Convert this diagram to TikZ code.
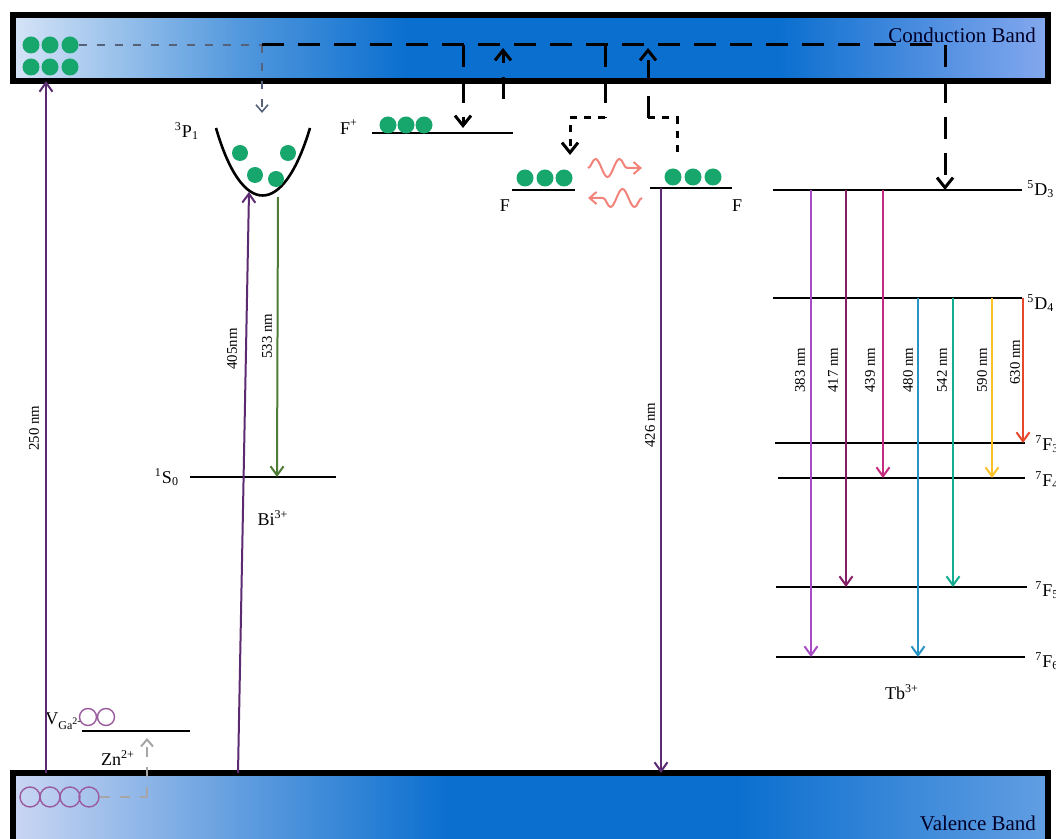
\documentclass[tikz,border=0pt]{standalone}
\usepackage{fontspec}
\setmainfont{Liberation Serif}
\usetikzlibrary{arrows.meta,positioning,calc,decorations.pathmorphing}
\definecolor{CBPale}{HTML}{D6E4F7}
\definecolor{BandBlue}{HTML}{0B6FCF}
\definecolor{CBRight}{HTML}{84A8EE}
\definecolor{VBPale}{HTML}{CAD6F3}
\definecolor{VBRight}{HTML}{629EE2}
\definecolor{Dot}{HTML}{17A66B}
\definecolor{Hole}{HTML}{9A5A9E}
\definecolor{Pump}{HTML}{5C2A70}
\definecolor{Green533}{HTML}{4E7B36}
\definecolor{Wave}{HTML}{F2837B}
\definecolor{Trap}{HTML}{56627A}
\definecolor{ZnGrey}{HTML}{A6A6A6}
\definecolor{c383}{HTML}{A74CC4}
\definecolor{c417}{HTML}{841F66}
\definecolor{c439}{HTML}{C42A7E}
\definecolor{c480}{HTML}{2A93C6}
\definecolor{c542}{HTML}{15AD8F}
\definecolor{c590}{HTML}{F8C22A}
\definecolor{c630}{HTML}{E8482A}
\pgfdeclarehorizontalshading{cbshade}{100bp}{color(0bp)=(CBPale); color(25bp)=(CBPale);
  color(36bp)=(BandBlue!65!CBPale); color(44bp)=(BandBlue); color(62bp)=(BandBlue);
  color(75bp)=(CBRight); color(100bp)=(CBRight)}
\pgfdeclarehorizontalshading{vbshade}{100bp}{color(0bp)=(VBPale); color(25bp)=(VBPale);
  color(37bp)=(BandBlue!60!VBPale); color(46bp)=(BandBlue); color(60bp)=(BandBlue);
  color(75bp)=(VBRight); color(100bp)=(VBRight)}
\tikzset{
  cband/.style={draw=black,line width=2.6pt,shading=cbshade},
  vband/.style={draw=black,line width=2.6pt,shading=vbshade},
  bandtxt/.style={font=\fontsize{10.5}{12}\selectfont,text=black!85!blue},
  level/.style={draw=black,line width=1.35pt},
  well/.style={draw=black,line width=1.3pt},
  electron/.style={circle,fill=Dot,inner sep=0pt,minimum size=8.5pt},
  smallelectron/.style={electron,minimum size=8pt},
  hole/.style={circle,draw=Hole,line width=.7pt,inner sep=0pt,minimum size=8.5pt},
  bighole/.style={hole,minimum size=10pt},
  term/.style={font=\fontsize{9}{11}\selectfont,inner sep=1pt},
  wl/.style={font=\fontsize{7.4}{9}\selectfont,rotate=90,inner sep=1pt},
  emit/.style={-{Straight Barb[length=4.5pt,width=6.5pt]},line width=1pt},
  pump/.style={emit,draw=Pump},
  hopdash/.style={draw=black,line width=1.5pt,dash pattern=on 11pt off 7pt},
  hopdot/.style={draw=black,line width=1.5pt,dash pattern=on 3.5pt off 3.5pt},
  hoptip/.style={-{Straight Barb[length=5pt,width=8pt]}},
  trapdash/.style={draw=Trap,line width=.8pt,dash pattern=on 4pt off 5pt},
  zndash/.style={draw=ZnGrey,line width=1pt,dash pattern=on 5pt off 5pt},
  wave/.style={draw=Wave,line width=1pt,-{Straight Barb[length=3.5pt,width=6pt]},
    decorate,decoration={snake,amplitude=4.5pt,segment length=12pt,post length=5pt}}
}
\begin{document}
\begin{tikzpicture}[x=0.5pt,y=-0.5pt]
\useasboundingbox (0,0) rectangle (1056,839);
% bands
\path[cband] (13,15) rectangle (1048,81);
\node[bandtxt,anchor=east] (cbt) at (1043,35) {Conduction Band};
\path[vband] (13,773) rectangle (1048,852);
\node[bandtxt,anchor=east] (vbt) at (1043,823) {Valence Band};
\coordinate (CB) at (0,81);
\coordinate (VB) at (0,773);
\foreach \i/\x/\y in {1/31/45,2/50/45,3/70/45,4/31/67,5/50/67,6/70/67}
  \node[electron] (cb\i) at (\x,\y) {};
\foreach \i/\x in {1/30,2/50,3/70,4/89}
  \node[bighole] (vb\i) at (\x,797) {};

% levels
\coordinate (S0L) at (190,477); \coordinate (S0R) at (336,477);
\coordinate (VgL) at (82,731);  \coordinate (VgR) at (190,731);
\coordinate (FpL) at (372,133); \coordinate (FpR) at (513,133);
\coordinate (FaL) at (512,190); \coordinate (FaR) at (575,190);
\coordinate (FbL) at (650,188); \coordinate (FbR) at (732,188);
\coordinate (D3L) at (773,190); \coordinate (D3R) at (1022,190);
\coordinate (D4L) at (773,298); \coordinate (D4R) at (1022,298);
\coordinate (F3L) at (775,443); \coordinate (F3R) at (1025,443);
\coordinate (F4L) at (778,478); \coordinate (F4R) at (1025,478);
\coordinate (F5L) at (776,587); \coordinate (F5R) at (1027,587);
\coordinate (F6L) at (776,657); \coordinate (F6R) at (1025,657);
\foreach \lv in {S0,Vg,Fp,Fa,Fb,D3,D4,F3,F4,F5,F6}
  \draw[level] (\lv L) -- (\lv R);

% Bi3+ centre
\draw[well] (216,128) .. controls (242,218) and (283,218) .. (310,128);
\coordinate (P1) at (249,192);
\foreach \i/\x/\y in {1/240/153,2/288/153,3/255/175,4/276/179}
  \node[smallelectron] (p\i) at (\x,\y) {};
\node[term] (p1lbl) at (187,131) {\textsuperscript{3}P\textsubscript{1}};
\node[term] (s0lbl) at (167,477) {\textsuperscript{1}S\textsubscript{0}};
\node[term] (bi) at (273,518) {Bi\textsuperscript{3+}};

% defects
\foreach \i/\x in {1/388,2/406,3/424}
  \node[electron] (fp\i) at (\x,125) {};
\foreach \i/\x in {1/525,2/545,3/564}
  \node[electron] (fa\i) at (\x,178) {};
\foreach \i/\x in {1/673,2/693,3/713}
  \node[electron] (fb\i) at (\x,177) {};
\node[term] (fplbl) at (349,127) {F\textsuperscript{+}};
\node[term] (falbl) at (505,206) {F};
\node[term] (fblbl) at (737,206) {F};
\node[hole] (vg1) at (88,717) {};
\node[hole] (vg2) at (106,717) {};
\node[term,anchor=west] (vglbl) at (43,721) {V\textsubscript{Ga\textsuperscript{2-}}};
\node[term] (znlbl) at (118,758) {Zn\textsuperscript{2+}};

% pumping and emission
\coordinate (x250) at (46,0);
\coordinate (x405) at (238,0);
\coordinate (x533) at (277,0);
\coordinate (x426) at (661,0);
\draw[pump] (x250 |- VB) -- (x250 |- CB);
\draw[pump] (x405 |- VB) -- (P1);
\draw[emit,draw=Green533] (278,197) -- (x533 |- S0L);
\draw[pump] (x426 |- FbL) -- (x426 |- VB);
\node[wl] (w250) at (34,428) {250 nm};
\node[wl] (w405) at (232,349) {405nm};
\node[wl] (w533) at (267,336) {533 nm};
\node[wl] (w426) at (650,425) {426 nm};

% charge transfer through the conduction band
\coordinate (split) at (262,45);
\coordinate (p1top) at (262,113);
\coordinate (cbend) at (945,45);
\draw[trapdash] (cb3.east) -- (split);
\draw[trapdash,-{Straight Barb[length=3.5pt,width=6pt]}] (split) -- (p1top);
\draw[hopdash] (split) -- (cbend);
\draw[hopdash,hoptip] (cbend) -- (cbend |- D3L);
\coordinate (j1) at (463,45);
\draw[hopdash,hoptip,shorten >=2.5pt] (j1) -- (j1 |- FpL);
\coordinate (j2) at (503,48);
\coordinate (fpup) at (503,99);
\draw[hopdash,hoptip] (fpup) -- (j2);
\coordinate (j3) at (605,45);
\coordinate (k3) at (605,118);
\coordinate (fatop) at (570,155);
\draw[hopdash] (j3) -- (k3);
\draw[hopdot,hoptip] (k3) -| (fatop);
\coordinate (j4) at (648,48);
\coordinate (m4) at (648,118);
\coordinate (fbtop) at (677,152);
\draw[hopdot] (fbtop) |- (m4);
\draw[hopdash,hoptip] (m4) -- (j4);
\coordinate (wa) at (588,168);
\coordinate (wb) at (642,168);
\coordinate (wc) at (642,198);
\coordinate (wd) at (588,198);
\draw[wave] (wa) -- (wb);
\draw[wave] (wc) -- (wd);

% Zn2+ acceptor
\coordinate (zncorner) at (147,797);
\coordinate (vgtip) at (147,738);
\draw[zndash] (vb4.east) -- (zncorner);
\draw[zndash,-{Straight Barb[length=3.5pt,width=6pt]}] (zncorner) -- (vgtip);

% Tb3+ transitions
\foreach \wl/\x/\from/\to/\lx/\ly in {383/811/D3/F6/800/370,417/846/D3/F5/833/370,439/883/D3/F4/870/370,480/918/D4/F6/908/370,542/953/D4/F5/942/370,590/992/D4/F4/982/370,630/1023/D4/F3/1015/362}{
  \coordinate (x\wl) at (\x,0);
  \draw[emit,draw=c\wl] (x\wl |- \from L) -- (x\wl |- \to L);
  \node[wl] (w\wl) at (\lx,\ly) {\wl\ nm};
}
\node[term,anchor=west] (d3lbl) at (1025,189) {\textsuperscript{5}D\textsubscript{3}};
\node[term,anchor=west] (d4lbl) at (1025,303) {\textsuperscript{5}D\textsubscript{4}};
\node[term,anchor=west] (f3lbl) at (1033,444) {\textsuperscript{7}F\textsubscript{3}};
\node[term,anchor=west] (f4lbl) at (1033,480) {\textsuperscript{7}F\textsubscript{4}};
\node[term,anchor=west] (f5lbl) at (1033,590) {\textsuperscript{7}F\textsubscript{5}};
\node[term,anchor=west] (f6lbl) at (1033,661) {\textsuperscript{7}F\textsubscript{6}};
\node[term] (tb) at (902,692) {Tb\textsuperscript{3+}};
\end{tikzpicture}
\end{document}
